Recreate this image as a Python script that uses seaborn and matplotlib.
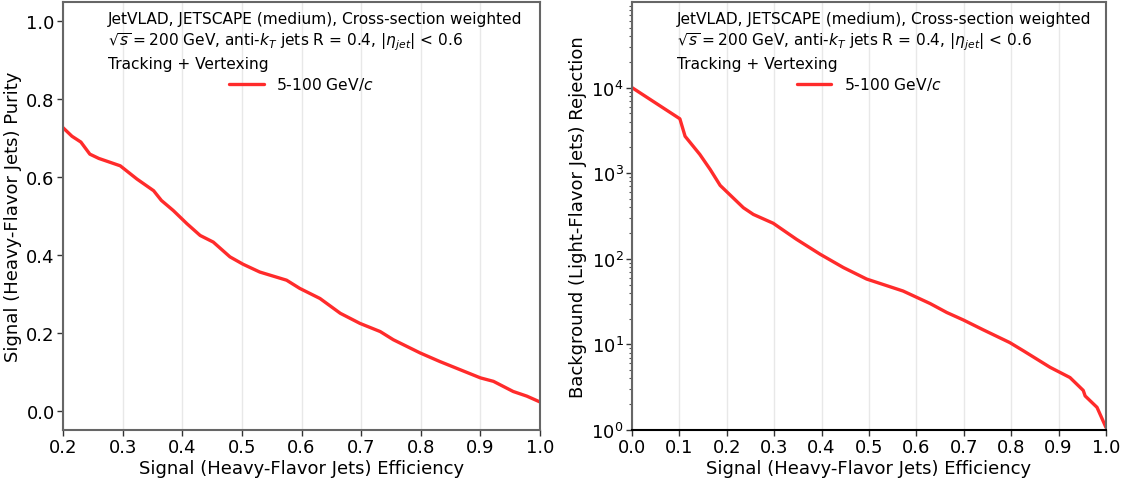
import numpy as np
import pandas as pd
import matplotlib
matplotlib.use("Agg")
import matplotlib.pyplot as plt
import seaborn as sns

# Purity vs efficiency (left)
eff_purity = [0.200, 0.215, 0.230, 0.245, 0.260, 0.296, 0.310, 0.324, 0.352, 0.365,
              0.385, 0.408, 0.430, 0.452, 0.480, 0.502, 0.530, 0.575, 0.597, 0.631,
              0.665, 0.698, 0.732, 0.754, 0.799, 0.832, 0.866, 0.900, 0.922, 0.955,
              0.978, 1.000]
purity = [0.727, 0.705, 0.690, 0.659, 0.648, 0.629, 0.612, 0.595, 0.565, 0.540,
          0.514, 0.480, 0.450, 0.433, 0.395, 0.376, 0.356, 0.335, 0.314, 0.288,
          0.250, 0.224, 0.203, 0.182, 0.148, 0.126, 0.105, 0.084, 0.075, 0.049,
          0.037, 0.022]

# Rejection vs efficiency (right)
eff_rej = [0.000, 0.101, 0.112, 0.143, 0.165, 0.186, 0.235, 0.256, 0.298, 0.347,
           0.397, 0.446, 0.495, 0.572, 0.629, 0.664, 0.699, 0.741, 0.797, 0.826,
           0.882, 0.924, 0.952, 0.956, 0.981, 1.000]
rejection = [10000, 4320, 2700, 1660, 1105, 720, 395, 330, 260, 169,
             113, 79, 58, 42, 30, 23.6, 19.3, 14.8, 10.5, 8.4,
             5.4, 4.1, 2.9, 2.5, 1.84, 1.07]

series_label = "5-100 GeV/$c$"
info_text = ("JetVLAD, JETSCAPE (medium), Cross-section weighted\n"
             "$\\sqrt{s} = 200$ GeV, anti-$k_{T}$ jets R = 0.4, $|\\eta_{jet}|$ < 0.6\n"
             "Tracking + Vertexing")

sns.set_style("white")
plt.rcParams['font.family'] = ['DejaVu Sans']
plt.rcParams['text.color'] = 'black'
plt.rcParams['axes.labelcolor'] = 'black'
plt.rcParams['xtick.color'] = 'black'
plt.rcParams['ytick.color'] = 'black'

fig = plt.figure(figsize=(11.36, 4.81), dpi=100)
ax1 = fig.add_axes([63/1136, 50/481, 477/1136, 428/481])
ax2 = fig.add_axes([632/1136, 50/481, 474/1136, 428/481])

color = "#ff2b2b"
df1 = pd.DataFrame({"eff": eff_purity, "val": purity})
df2 = pd.DataFrame({"eff": eff_rej, "val": rejection})

sns.lineplot(data=df1, x="eff", y="val", ax=ax1, color=color, lw=2.4,
             label=series_label, sort=False, estimator=None)
sns.lineplot(data=df2, x="eff", y="val", ax=ax2, color=color, lw=2.4,
             label=series_label, sort=False, estimator=None)

ax1.set_xlim(0.2, 1.0)
ax1.set_ylim(-0.05, 1.05)
ax1.set_xticks(np.arange(0.2, 1.01, 0.1))
ax1.set_yticks(np.arange(0.0, 1.01, 0.2))
ax1.set_xlabel("Signal (Heavy-Flavor Jets) Efficiency", fontsize=13, labelpad=2)
ax1.set_ylabel("Signal (Heavy-Flavor Jets) Purity", fontsize=13, labelpad=3)

ax2.set_yscale("log")
ax2.set_xlim(0.0, 1.0)
ax2.set_ylim(1, 1e5)
ax2.set_xticks(np.arange(0.0, 1.01, 0.1))
ax2.set_yticks([1, 10, 100, 1000, 10000])
ax2.set_xlabel("Signal (Heavy-Flavor Jets) Efficiency", fontsize=13, labelpad=2)
ax2.set_ylabel("Background (Light-Flavor Jets) Rejection", fontsize=13, labelpad=3)

for ax in (ax1, ax2):
    ax.tick_params(axis="both", which="major", labelsize=13, direction="out",
                   length=4, width=1, pad=2, left=True, bottom=True, color="#333333")
    ax.tick_params(axis="y", which="minor", left=True, length=2, width=0.8, color="#555555")
    ax.xaxis.grid(True, color="#e8e8e8", lw=1)
    ax.yaxis.grid(False)
    for s in ax.spines.values():
        s.set_color("#666666")
        s.set_linewidth(1.5)
    ax.text(0.094, 0.980, info_text, transform=ax.transAxes, fontsize=11.1,
            va="top", ha="left", linespacing=1.32)
    ax.legend(loc="upper center", bbox_to_anchor=(0.5, 0.862), frameon=False,
              fontsize=11.2, handlelength=2.2, handletextpad=0.8)
ax2.spines["bottom"].set_color("black")

fig.savefig("out.png", dpi=100)
